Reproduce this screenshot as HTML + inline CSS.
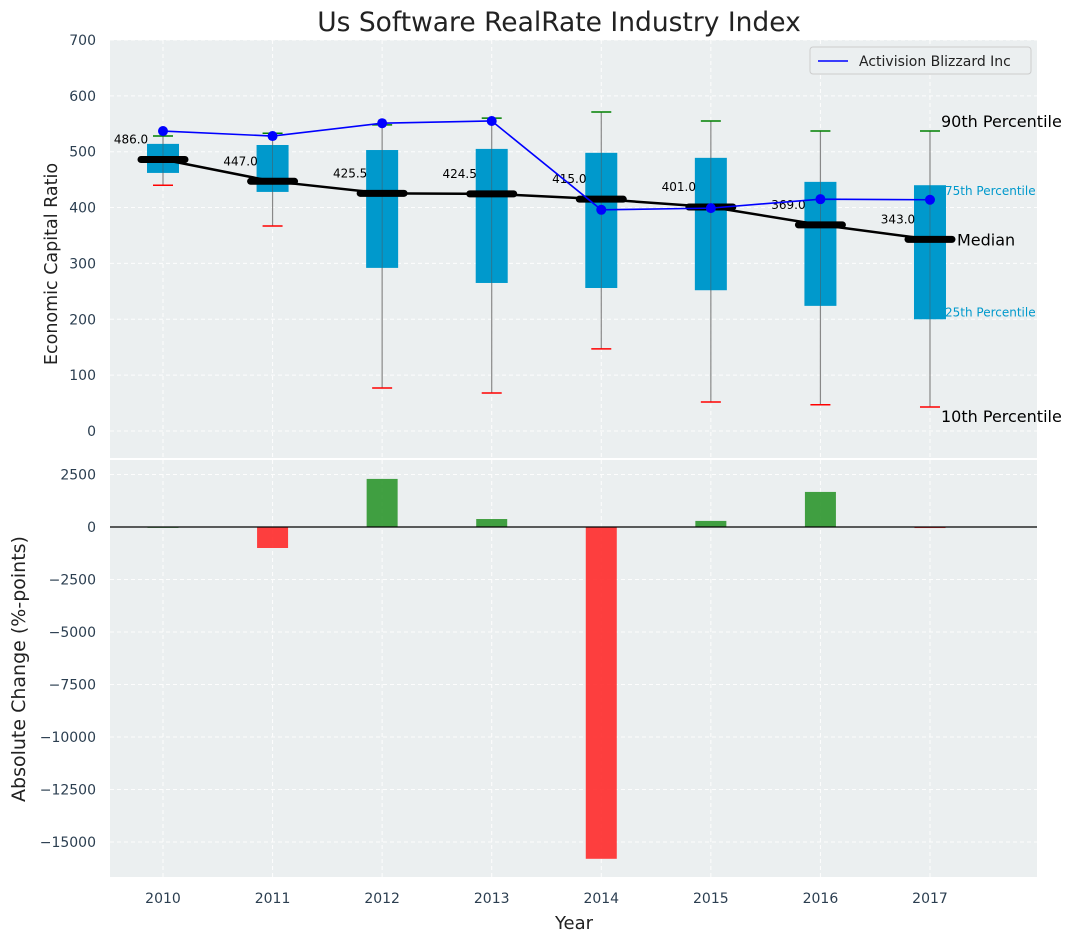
<!DOCTYPE html>
<html><head><meta charset="utf-8"><style>
body{margin:0;background:#fff;font-family:"Liberation Sans","DejaVu Sans",sans-serif;}
</style></head><body>
<svg id="c" width="1076" height="942" xmlns="http://www.w3.org/2000/svg" font-family="DejaVu Sans, Liberation Sans, sans-serif"></svg>
<script>
const years=[2010,2011,2012,2013,2014,2015,2016,2017];
const q25=[462,428,292,265,256,252,224,200];
const q75=[514,512,503,505,498,489,446,440];
const medians=[486.0,447.0,425.5,424.5,415.0,401.0,369.0,343.0];
const p10=[440,367,77,68,147,52,47,43];
const p90=[528,533,548,560,571,555,537,537];
const company=[537,528,551,555,396,399,415,414];
const changes=[0,-1000,2290,380,-15800,290,1670,-50];
const yTicksTop=[0,100,200,300,400,500,600,700];
const yTicksBot=[2500,0,-2500,-5000,-7500,-10000,-12500,-15000];

const svg=document.getElementById('c');const NS='http://www.w3.org/2000/svg';
function el(t,a,p){const e=document.createElementNS(NS,t);for(const k in a)e.setAttribute(k,a[k]);(p||svg).appendChild(e);return e;}
function tx(s,a,p){const e=el('text',a,p);e.textContent=s;return e;}
const L=110,R=1037,T1=40,B1=458,T2=460,B2=877;
const x=i=>163+i*109.57;
const y1=v=>431-v*0.5586;
const y2=v=>527-v*0.021;
el('rect',{x:L,y:T1,width:R-L,height:B1-T1,fill:'#ebeff0',});
el('rect',{x:L,y:T2,width:R-L,height:B2-T2,fill:'#ebeff0',});
const g=el('g',{stroke:'#fff','stroke-dasharray':'4,3','stroke-width':1,opacity:0.9});
years.forEach((yr,i)=>{el('line',{x1:x(i),x2:x(i),y1:T1,y2:B1},g);el('line',{x1:x(i),x2:x(i),y1:T2,y2:B2},g);});
yTicksTop.forEach(v=>el('line',{x1:L,x2:R,y1:y1(v),y2:y1(v)},g));
yTicksBot.forEach(v=>el('line',{x1:L,x2:R,y1:y2(v),y2:y2(v)},g));
yTicksTop.forEach(v=>{const t=tx(v,{x:96,y:y1(v)+5,'text-anchor':'end','font-size':14,fill:'#2b3e50'});});
yTicksBot.forEach(v=>{const t=tx(v<0?'\u2212'+(-v):v,{x:96,y:y2(v)+5,'text-anchor':'end','font-size':14,fill:'#2b3e50'});});
years.forEach((yr,i)=>{const t=tx(yr,{x:x(i),y:903,'text-anchor':'middle','font-size':14,fill:'#2b3e50'});});
years.forEach((yr,i)=>{
 const bg=el('g',{});
 el('line',{x1:x(i),x2:x(i),y1:y1(p10[i]),y2:y1(p90[i]),stroke:'#888','stroke-width':1.2},bg);
 el('rect',{x:x(i)-16,y:y1(q75[i]),width:32,height:y1(q25[i])-y1(q75[i]),fill:'#0099cc'},bg);
 el('line',{x1:x(i),x2:x(i),y1:y1(q75[i]),y2:y1(q25[i]),stroke:'#555','stroke-width':0.8,opacity:0.6},bg);
 el('line',{x1:x(i)-10,x2:x(i)+10,y1:y1(p10[i]),y2:y1(p10[i]),stroke:'red','stroke-width':1.5},bg);
 el('line',{x1:x(i)-10,x2:x(i)+10,y1:y1(p90[i]),y2:y1(p90[i]),stroke:'green','stroke-width':1.5},bg);
});
el('polyline',{points:medians.map((m,i)=>x(i)+','+y1(m)).join(' '),fill:'none',stroke:'#000','stroke-width':2.5,});
medians.forEach((m,i)=>{
 const s=el('line',{x1:x(i)-22,x2:x(i)+22,y1:y1(m),y2:y1(m),stroke:'#000','stroke-width':7,'stroke-linecap':'round'});
 
 const t=tx(m.toFixed(1),{x:x(i)-32,y:y1(m)-16,'text-anchor':'middle','font-size':12,fill:'#000'});
 
});
el('polyline',{points:company.map((m,i)=>x(i)+','+y1(m)).join(' '),fill:'none',stroke:'blue','stroke-width':1.6,});
company.forEach((m,i)=>{const c=el('circle',{cx:x(i),cy:y1(m),r:5,fill:'blue'});});
const li=7;
[['90th Percentile',941,y1(p90[li])-4,16,'#000'],['75th Percentile',945,y1(q75[li])+10,12,'#0099cc'],['Median',957,y1(medians[li])+6,16,'#000'],['25th Percentile',945,y1(q25[li])-3,12,'#0099cc'],['10th Percentile',941,y1(p10[li])+15,16,'#000']].forEach(a=>{
 const t=tx(a[0],{x:a[1],y:a[2],'font-size':a[3],fill:a[4]});});
changes.forEach((v,i)=>{
 const yy=Math.min(y2(v),y2(0)),h=Math.abs(y2(v)-y2(0));
 const r=el('rect',{x:x(i)-15.5,y:yy,width:31,height:Math.max(h,0.8),fill:v>=0?'#2e962e':'#ff2a2a',opacity:0.9});
 
});
el('line',{x1:L,x2:R,y1:y2(0),y2:y2(0),stroke:'#000','stroke-width':1.2,});
const lg=el('g',{});
el('rect',{x:810,y:47,width:221,height:27,rx:3,fill:'#ebeff0',stroke:'#ccc'},lg);
el('line',{x1:818,x2:848,y1:61,y2:61,stroke:'blue','stroke-width':1.6},lg);
tx('Activision Blizzard Inc',{x:859,y:66,'font-size':14,fill:'#222'},lg);
tx('Us Software RealRate Industry Index',{x:559,y:31,'text-anchor':'middle','font-size':26.5,fill:'#222',});
tx('Year',{x:574,y:929,'text-anchor':'middle','font-size':18,fill:'#222',});
tx('Economic Capital Ratio',{x:0,y:0,transform:'translate(57,264) rotate(-90)','text-anchor':'middle','font-size':17.5,fill:'#222',});
tx('Absolute Change (%-points)',{x:0,y:0,transform:'translate(25,669) rotate(-90)','text-anchor':'middle','font-size':19,fill:'#222',});
</script>
</body></html>
